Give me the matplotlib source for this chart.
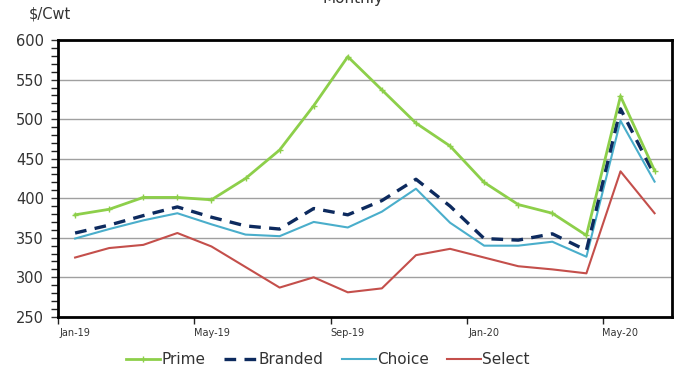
import matplotlib
matplotlib.use("Agg")
import matplotlib.pyplot as plt
from matplotlib.ticker import MultipleLocator, FixedLocator

months = ["Jan-19", "Feb-19", "Mar-19", "Apr-19", "May-19", "Jun-19",
          "Jul-19", "Aug-19", "Sep-19", "Oct-19", "Nov-19", "Dec-19",
          "Jan-20", "Feb-20", "Mar-20", "Apr-20", "May-20", "Jun-20"]
tick_labels = ["Jan-19", "May-19", "Sep-19", "Jan-20", "May-20"]

prime = [379, 386, 401, 401, 398, 425, 461, 517, 579, 537, 495, 466,
         420, 392, 381, 353, 529, 435]
branded = [356, 366, 378, 389, 376, 365, 361, 387, 379, 397, 424, 390,
           349, 347, 355, 334, 513, 429]
choice = [349, 361, 372, 381, 367, 354, 352, 370, 363, 383, 412, 369,
          340, 340, 345, 326, 498, 421]
select = [325, 337, 341, 356, 339, 313, 287, 300, 281, 286, 328, 336,
          325, 314, 310, 305, 434, 381]


def main():
    fig = plt.figure(figsize=(6.75, 3.71), dpi=100)
    ax = fig.add_axes([0.086, 0.146, 0.909, 0.746])

    x = list(range(len(months)))

    ax.plot(x, prime, color="#8dcf4a", lw=2.0, marker="+", ms=4,
            mew=1.0, label="Prime", zorder=5)
    ax.plot(x, branded, color="#0d2a5e", lw=2.4, ls=(0, (3.5, 2.5)),
            label="Branded", zorder=4)
    ax.plot(x, choice, color="#4aaecb", lw=1.5, label="Choice", zorder=3)
    ax.plot(x, select, color="#c44f4b", lw=1.5, label="Select", zorder=3)

    ax.set_ylim(250, 600)
    ax.set_xlim(-0.5, len(months) - 0.5)

    # y axis: major every 50, minor every 10, ticks outside
    ax.yaxis.set_major_locator(MultipleLocator(50))
    ax.yaxis.set_minor_locator(MultipleLocator(10))
    ax.tick_params(axis="y", which="major", direction="out", length=5,
                   width=1, labelsize=10.5, colors="#333333", pad=5)
    ax.tick_params(axis="y", which="minor", direction="out", length=5,
                   width=1, colors="#222222")
    ax.grid(axis="y", which="major", color="#a0a0a0", lw=1)
    ax.set_axisbelow(True)

    # x axis: tick marks at category boundaries, labels centered on months
    label_pos = [months.index(m) for m in tick_labels]
    ax.xaxis.set_major_locator(FixedLocator([p - 0.5 for p in label_pos]))
    ax.xaxis.set_minor_locator(FixedLocator(label_pos))
    ax.set_xticklabels([])
    ax.set_xticklabels(tick_labels, minor=True)
    ax.tick_params(axis="x", which="major", direction="out", length=5,
                   width=1, color="#222222")
    ax.tick_params(axis="x", which="minor", length=0, labelsize=7,
                   colors="#333333", pad=8)

    for side in ["left", "bottom", "top", "right"]:
        ax.spines[side].set_color("black")
        ax.spines[side].set_linewidth(2)

    fig.text(0.042, 0.962, "$/Cwt", fontsize=10.5, color="#333333",
             va="center", ha="left")
    # title sits mostly above the visible area, as in the source image
    fig.text(0.523, 0.985, "Monthly", fontsize=11, color="#333333",
             va="bottom", ha="center")

    ax.legend(loc="center", bbox_to_anchor=(0.44, -0.155), ncol=4,
              frameon=False, fontsize=11, handlelength=2.2,
              handletextpad=0.1, columnspacing=1.2, labelcolor="#333333")

    fig.savefig("out.png", dpi=100)


if __name__ == "__main__":
    main()
